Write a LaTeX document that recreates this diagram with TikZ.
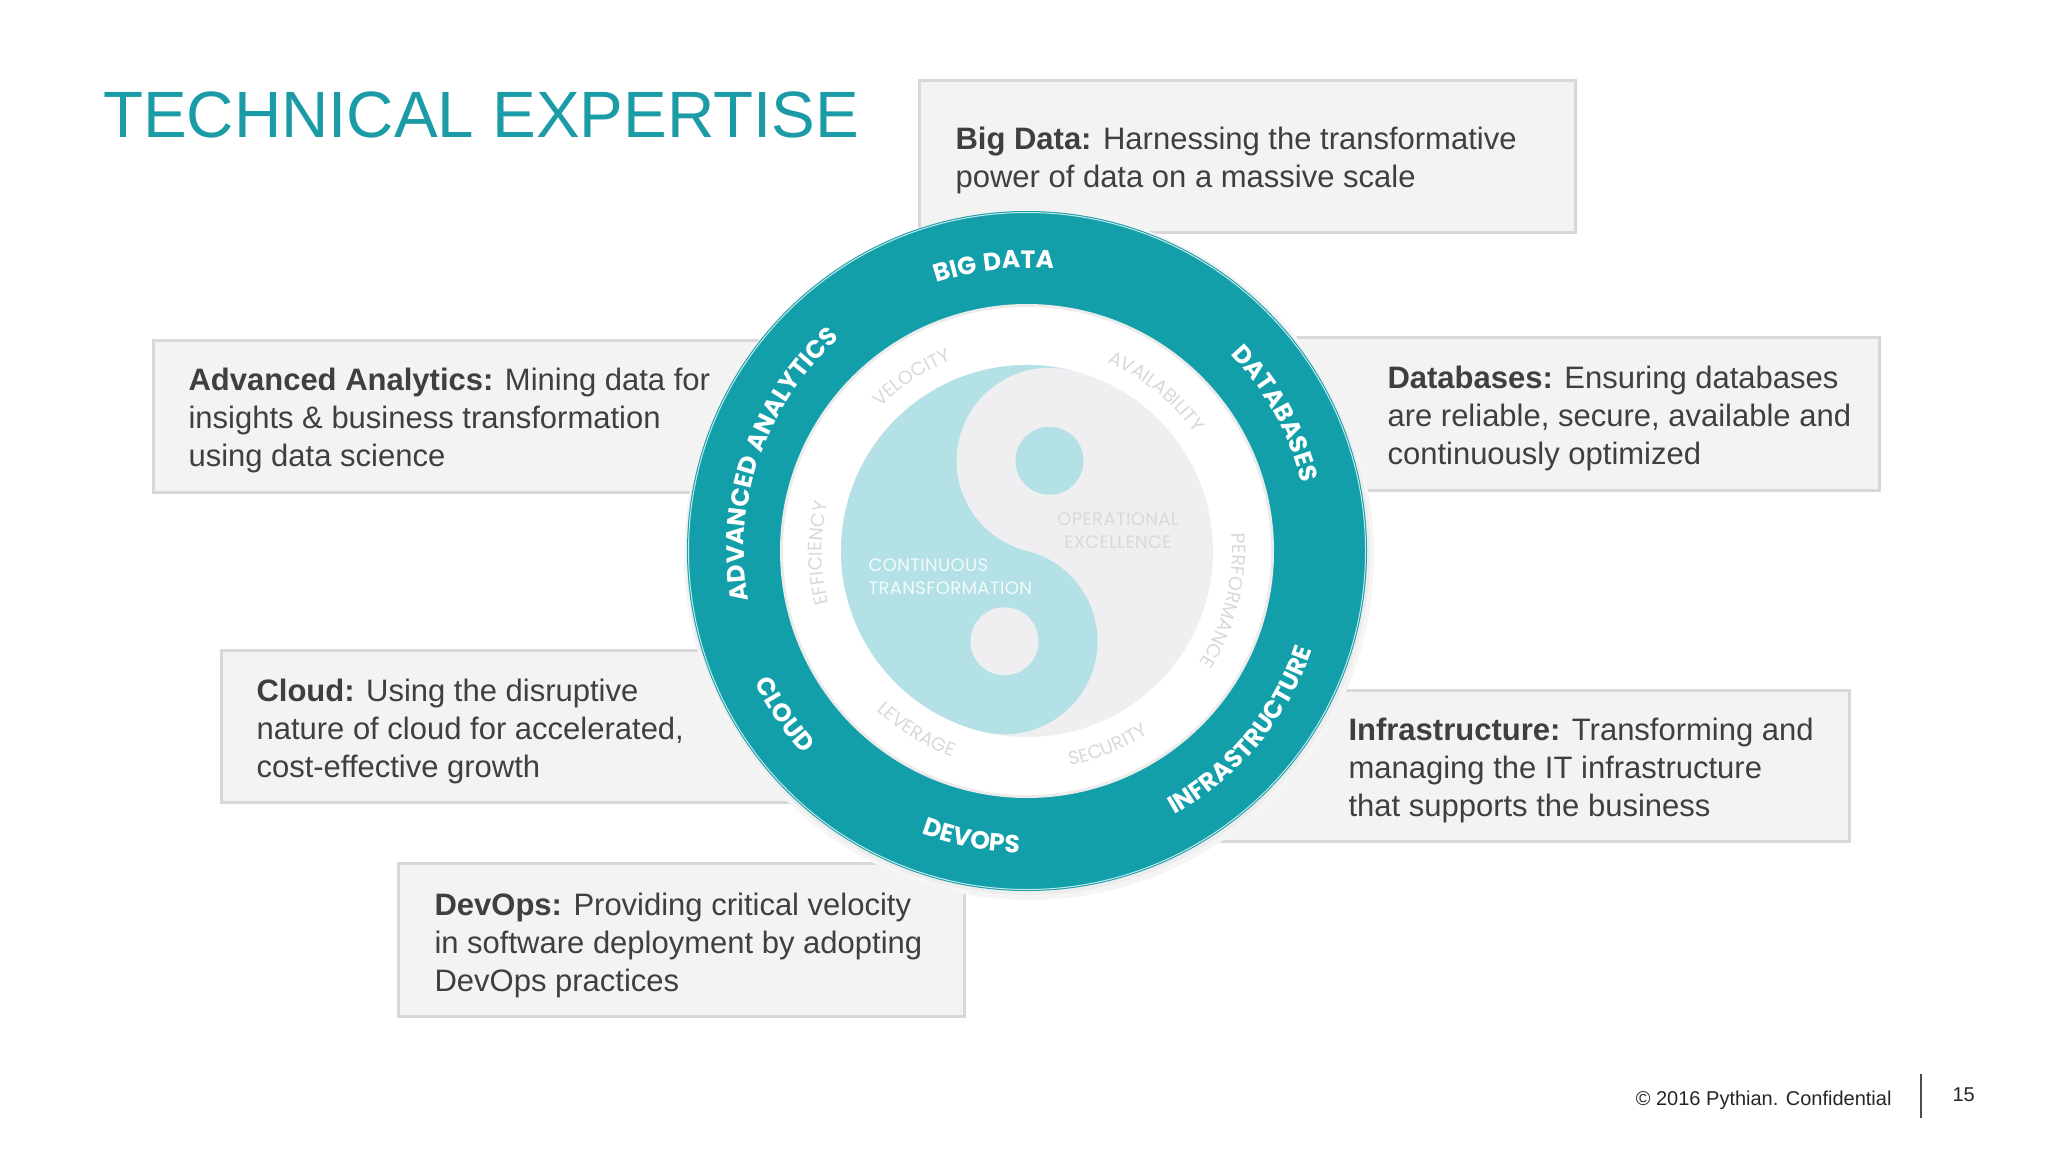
\documentclass[tikz,border=0pt]{standalone}
\usepackage{fontspec}
\setmainfont{Liberation Sans}
\newfontfamily\ringf{Poppins}[LetterSpace=3]
\newfontfamily\innerf{Poppins}[LetterSpace=2]
\usetikzlibrary{decorations.text}
\definecolor{teal1}{HTML}{129FAA}
\definecolor{titlec}{HTML}{1B9BA6}
\definecolor{lteal}{HTML}{B3E1E5}
\definecolor{discg}{HTML}{EFEFF1}
\definecolor{boxf}{HTML}{F3F3F3}
\definecolor{boxb}{HTML}{D8D8D8}
\definecolor{txt}{HTML}{3F3F3F}
\definecolor{faint}{HTML}{D9D9D9}
\tikzset{
  infobox/.style={draw=boxb, line width=3pt, fill=boxf},
  infotext/.style={anchor=base west, align=left, text=txt, font=\fontsize{31}{38}\selectfont},
}
% #1 center angle, #2 radius, #3 cw(1)/ccw(-1), #4 text with format, #5 half span
\newcommand\arclabel[5]{%
  \path[decorate, decoration={text along path, text={#4}, text align=center}]
    ([shift={({#1+#3*#5}:#2pt)}]C) arc[start angle={#1+#3*#5}, end angle={#1-#3*#5}, radius=#2pt];}
\begin{document}
\begin{tikzpicture}[x=1pt,y=1pt]
\useasboundingbox (0,0) rectangle (2048,-1152);
\fill[white] (0,0) rectangle (2048,-1152);
\node[anchor=base west, text=titlec, font=\fontsize{65.5}{76}\selectfont, inner sep=0] (title) at (103,-137) {TECHNICAL EXPERTISE};
% boxes
\path[infobox] (919,-80) rectangle (1575,-232) coordinate (bbd);
\path[infobox] (153,-340) rectangle (760,-492);
\path[infobox] (1280,-337) rectangle (1879,-490);
\path[infobox] (221,-650) rectangle (800,-802);
\path[infobox] (1200,-690) rectangle (1849,-841);
\path[infobox] (398,-863) rectangle (964,-1016);
\node[infotext] (tbd) at (952,-187) {\textbf{Big Data:} Harnessing the transformative\\power of data on a massive scale};
\node[infotext] (taa) at (185,-466) {\textbf{Advanced Analytics:} Mining data for\\insights \& business transformation\\using data science};
\node[infotext] (tdb) at (1384,-464) {\textbf{Databases:} Ensuring databases\\are reliable, secure, available and\\continuously optimized};
\node[infotext] (tcl) at (253,-777) {\textbf{Cloud:} Using the disruptive\\nature of cloud for accelerated,\\cost-effective growth};
\node[infotext] (tin) at (1345,-816) {\textbf{Infrastructure:} Transforming and\\managing the IT infrastructure\\that supports the business};
\node[infotext] (tdo) at (431,-991) {\textbf{DevOps:} Providing critical velocity\\in software deployment by adopting\\DevOps practices};
% circle
\coordinate (C) at (1027,-551);
\fill[black!4] ([shift={(2,-4)}]C) circle[radius=345pt];
\fill[black!7] ([shift={(1,-2)}]C) circle[radius=342pt];
\fill[teal1] (C) circle[radius=340pt];
\draw[white!75!teal1, line width=1pt] (C) circle[radius=338.5pt];
\fill[black!8] (C) circle[radius=247pt];
\fill[white] (C) circle[radius=244pt];
\fill[discg] (C) circle[radius=186pt];
\begin{scope}[shift={(C)}, rotate=-14]
  \fill[lteal] (0,186) arc[start angle=90, end angle=270, radius=186pt]
    arc[start angle=-90, end angle=90, radius=93pt]
    arc[start angle=-90, end angle=-270, radius=93pt] -- cycle;
  \fill[lteal] (0,93) circle[radius=34pt];
  \fill[discg] (0,-93) circle[radius=34pt];
\end{scope}
\node[align=left, anchor=base west, text=white!85!lteal, font=\innerf\fontsize{18}{23}\selectfont] (ct) at (865,-594) {CONTINUOUS\\TRANSFORMATION};
\node[align=center, anchor=base, text=faint, font=\innerf\fontsize{18}{23}\selectfont] (oe) at (1118,-548) {OPERATIONAL\\EXCELLENCE};
% ring labels
\arclabel{96.6}{283}{1}{|\ringf\bfseries\fontsize{25}{30}\selectfont\color{white}|BIG DATA}{40}
\arclabel{160.7}{283}{1}{|\ringf\bfseries\fontsize{25}{30}\selectfont\color{white}|ADVANCED ANALYTICS}{50}
\arclabel{29}{283}{1}{|\ringf\bfseries\fontsize{25}{30}\selectfont\color{white}|DATABASES}{40}
\arclabel{-40}{302}{-1}{|\ringf\bfseries\fontsize{25}{30}\selectfont\color{white}|INFRASTRUCTURE}{45}
\arclabel{-101}{302}{-1}{|\ringf\bfseries\fontsize{25}{30}\selectfont\color{white}|DEVOPS}{40}
\arclabel{-146}{302}{-1}{|\ringf\bfseries\fontsize{25}{30}\selectfont\color{white}|CLOUD}{40}
% inner labels
\arclabel{123.6}{205}{1}{|\innerf\fontsize{19}{22}\selectfont\color{faint}|VELOCITY}{40}
\arclabel{51}{205}{1}{|\innerf\fontsize{19}{22}\selectfont\color{faint}|AVAILABILITY}{45}
\arclabel{-14}{205}{1}{|\innerf\fontsize{19}{22}\selectfont\color{faint}|PERFORMANCE}{45}
\arclabel{-67.5}{219}{-1}{|\innerf\fontsize{19}{22}\selectfont\color{faint}|SECURITY}{40}
\arclabel{-121.6}{219}{-1}{|\innerf\fontsize{19}{22}\selectfont\color{faint}|LEVERAGE}{40}
\arclabel{180.7}{205}{1}{|\innerf\fontsize{19}{22}\selectfont\color{faint}|EFFICIENCY}{45}
% footer
\node[anchor=base east, text=black!85, font=\fontsize{20}{24}\selectfont] (ft) at (1895,-1105) {\textcopyright{} 2016 Pythian. Confidential};
\coordinate (l1) at (1921,-1074); \coordinate (l2) at (1921,-1118);
\draw[black!70, line width=1.5pt] (l1) -- (l2);
\node[anchor=base west, text=black!85, font=\fontsize{20}{24}\selectfont] (pg) at (1949,-1101) {15};
\end{tikzpicture}
\end{document}
